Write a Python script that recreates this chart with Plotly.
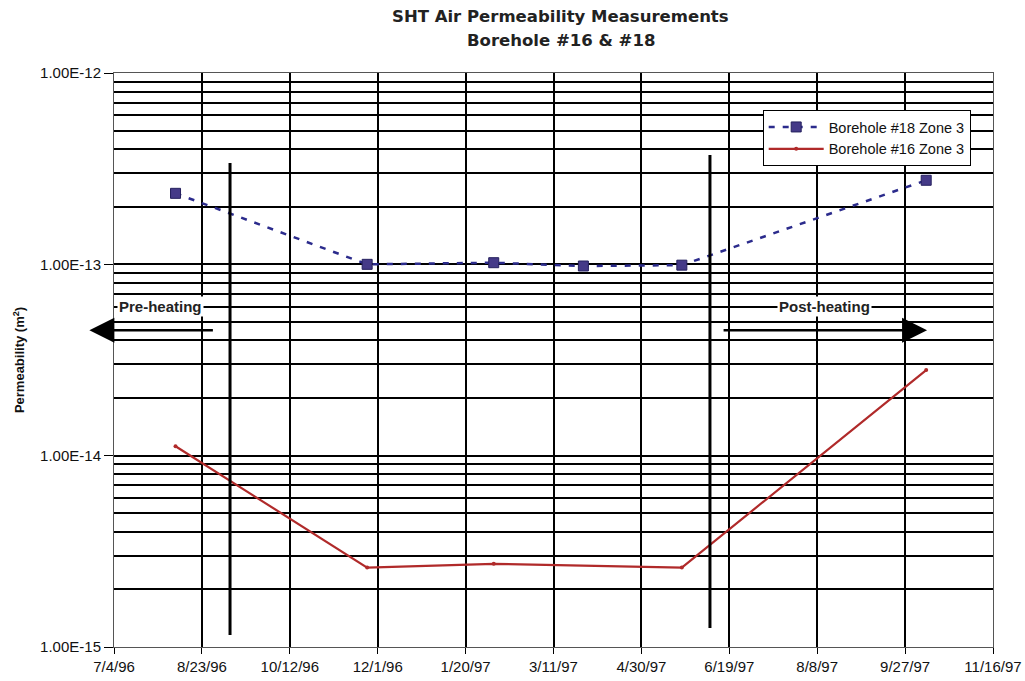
import plotly.graph_objects as go

# ---- data ----
bh18_dates = ["1996-08-08", "1996-11-25", "1997-02-05", "1997-03-28", "1997-05-23", "1997-10-09"]
bh18_perm = [2.35e-13, 1.0e-13, 1.02e-13, 0.98e-13, 0.99e-13, 2.75e-13]

bh16_dates = ["1996-08-08", "1996-11-25", "1997-02-05", "1997-05-23", "1997-10-09"]
bh16_perm = [1.12e-14, 2.6e-15, 2.72e-15, 2.6e-15, 2.8e-14]

heating_start = "1996-09-08"
heating_end = "1997-06-08"

x_tick_dates = ["1996-07-04", "1996-08-23", "1996-10-12", "1996-12-01", "1997-01-20",
                "1997-03-11", "1997-04-30", "1997-06-19", "1997-08-08", "1997-09-27", "1997-11-16"]
x_tick_text = ["7/4/96", "8/23/96", "10/12/96", "12/1/96", "1/20/97", "3/11/97",
               "4/30/97", "6/19/97", "8/8/97", "9/27/97", "11/16/97"]
y_tick_vals = [1e-15, 1e-14, 1e-13, 1e-12]
y_tick_text = ["1.00E-15", "1.00E-14", "1.00E-13", "1.00E-12"]
y_minor_vals = [m * 10.0 ** e for e in (-15, -14, -13) for m in range(2, 10)]

title_lines = ["SHT Air Permeability Measurements", "Borehole #16 & #18"]

FONT = "Liberation Sans, Arial, sans-serif"
TFONT = "DejaVu Sans, Liberation Sans, sans-serif"

fig = go.Figure()
fig.add_trace(go.Scatter(
    x=bh18_dates, y=bh18_perm, name="Borehole #18 Zone 3", mode="lines+markers",
    line=dict(color="#2b2b8c", width=2.5, dash="6px,8px"),
    marker=dict(symbol="square", size=10, color="#453a88", line=dict(color="#25205e", width=1)),
))
fig.add_trace(go.Scatter(
    x=bh16_dates, y=bh16_perm, name="Borehole #16 Zone 3", mode="lines+markers",
    line=dict(color="#b02a2a", width=2.2),
    marker=dict(symbol="circle", size=4, color="#b02a2a"),
))

# heating boundaries
fig.add_shape(type="line", xref="x", yref="paper", x0=heating_start, x1=heating_start,
              y0=0.021, y1=0.843, line=dict(color="black", width=3))
fig.add_shape(type="line", xref="x", yref="paper", x0=heating_end, x1=heating_end,
              y0=0.033, y1=0.857, line=dict(color="black", width=3))

# arrows
fig.add_annotation(xref="paper", yref="paper", x=-0.028, y=0.552, ax=125, ay=0,
                   text="", showarrow=True, arrowhead=2, arrowsize=2.0, arrowwidth=2.5,
                   arrowcolor="black")
fig.add_annotation(xref="paper", yref="paper", x=0.925, y=0.552, ax=-205, ay=0,
                   text="", showarrow=True, arrowhead=2, arrowsize=2.0, arrowwidth=2.5,
                   arrowcolor="black")
fig.add_annotation(xref="paper", yref="paper", x=0.053, y=0.594, xanchor="center",
                   text="<b>Pre-heating</b>", showarrow=False, bgcolor="white",
                   font=dict(family=FONT, size=15, color="#222"))
fig.add_annotation(xref="paper", yref="paper", x=0.808, y=0.594, xanchor="center",
                   text="<b>Post-heating</b>", showarrow=False, bgcolor="white",
                   font=dict(family=FONT, size=15, color="#222"))

# title
fig.add_annotation(xref="paper", yref="paper", x=0.508, y=1.0976, xanchor="center",
                   yanchor="middle", text="<b>" + title_lines[0] + "</b>", showarrow=False,
                   font=dict(family=TFONT, size=16.5, color="#222"))
fig.add_annotation(xref="paper", yref="paper", x=0.508, y=1.057, xanchor="center",
                   yanchor="middle", text="<b>" + title_lines[1] + "</b>", showarrow=False,
                   font=dict(family=TFONT, size=16.5, color="#222"))

fig.update_layout(
    width=1025, height=681,
    margin=dict(l=114, r=32, t=73, b=34),
    paper_bgcolor="white", plot_bgcolor="white",
    font=dict(family=FONT, size=14, color="#111"),
    showlegend=True,
    legend=dict(x=0.738, y=0.9355, xanchor="left", yanchor="top",
                bgcolor="white", bordercolor="black", borderwidth=1,
                itemwidth=55,
                font=dict(family=FONT, size=14.5, color="#111"), tracegroupgap=0),
    xaxis=dict(
        type="date", range=["1996-07-04", "1997-11-16"], automargin=False,
        tickmode="array", tickvals=x_tick_dates, ticktext=x_tick_text,
        showgrid=True, gridcolor="black", gridwidth=1.5,
        ticks="outside", ticklen=6, tickcolor="black",
        showline=True, linecolor="#555", linewidth=1, mirror=True,
        tickfont=dict(family=FONT, size=15, color="#111"),
        zeroline=False,
    ),
    yaxis=dict(
        type="log", range=[-15, -12], automargin=False,
        tickmode="array", tickvals=y_tick_vals, ticktext=y_tick_text,
        showgrid=True, gridcolor="black", gridwidth=1.5,
        ticks="outside", ticklen=9, tickcolor="black",
        showline=True, linecolor="#555", linewidth=1, mirror=True,
        tickfont=dict(family=FONT, size=15, color="#111"),
        minor=dict(tickmode="array", tickvals=y_minor_vals, showgrid=True,
                   gridcolor="black", gridwidth=1.5, ticks=""),
        title=dict(text="<b>Permeability (m<sup>2</sup>)</b>", standoff=12,
                   font=dict(family=FONT, size=13, color="#111")),
    ),
)

fig.write_html("out.html")
